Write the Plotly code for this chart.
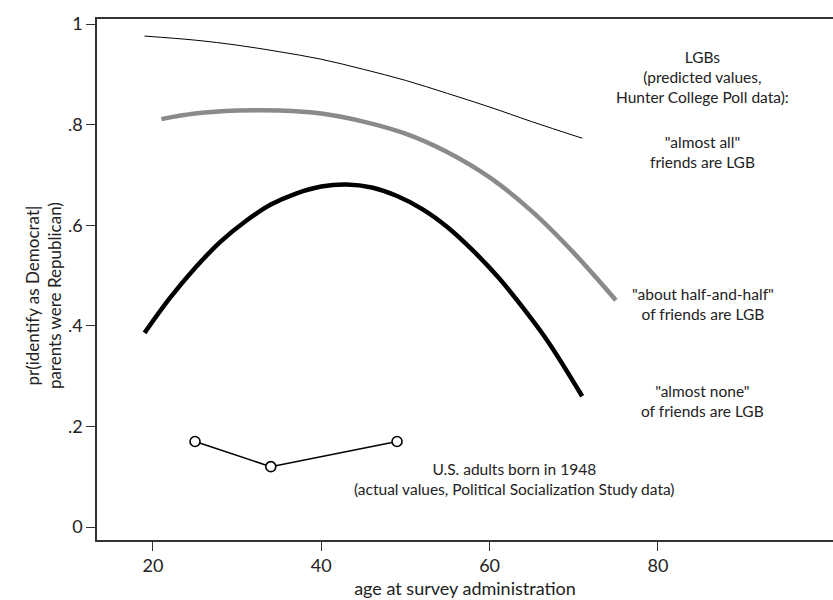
import plotly.graph_objects as go

# ---- data ----
ages_all = [19, 25, 30, 35, 40, 45, 50, 55, 60, 65, 71]
pr_all = [0.976, 0.968, 0.958, 0.945, 0.930, 0.910, 0.888, 0.862, 0.835, 0.806, 0.773]

ages_half = [21, 25, 30, 35, 40, 45, 50, 55, 60, 65, 70, 75]
pr_half = [0.811, 0.822, 0.828, 0.828, 0.822, 0.806, 0.782, 0.745, 0.695, 0.628, 0.545, 0.451]

ages_none = [19, 22, 25, 28, 31, 34, 37, 40, 43, 46, 49, 52, 55, 58, 61, 64, 67, 71]
pr_none = [0.386, 0.455, 0.515, 0.567, 0.608, 0.641, 0.663, 0.677, 0.681, 0.675,
           0.658, 0.632, 0.596, 0.550, 0.497, 0.435, 0.367, 0.260]

ages_pss = [25, 34, 49]
pr_pss = [0.17, 0.12, 0.17]

x_ticks = [20, 40, 60, 80]
y_ticks = [0, 0.2, 0.4, 0.6, 0.8, 1]
y_ticklabels = ["0", ".2", ".4", ".6", ".8", "1"]

label_texts = [
    "LGBs<br>(predicted values,<br>Hunter College Poll data):",
    "\"almost all\"<br>friends are LGB",
    "\"about half-and-half\"<br>of friends are LGB",
    "\"almost none\"<br>of friends are LGB",
    "U.S. adults born in 1948<br>(actual values, Political Socialization Study data)",
]
label_x = [85.3, 85.3, 85.3, 85.3, 63.0]
label_y = [0.895, 0.7465, 0.444, 0.2505, 0.0954]

FONT = "Lato"
TXT = "#222"

fig = go.Figure()
fig.add_trace(go.Scatter(x=ages_all, y=pr_all, mode="lines", line=dict(color="black", width=1, shape="spline"),
                         showlegend=False, hoverinfo="skip"))
fig.add_trace(go.Scatter(x=ages_half, y=pr_half, mode="lines", line=dict(color="#8a8a8a", width=4.5, shape="spline"),
                         showlegend=False, hoverinfo="skip"))
fig.add_trace(go.Scatter(x=ages_none, y=pr_none, mode="lines", line=dict(color="black", width=4.5, shape="spline"),
                         showlegend=False, hoverinfo="skip"))
fig.add_trace(go.Scatter(x=ages_pss, y=pr_pss, mode="lines+markers", line=dict(color="black", width=1.6),
                         marker=dict(symbol="circle", size=10, color="white", line=dict(color="black", width=1.6)),
                         showlegend=False, hoverinfo="skip"))

for t, xx, yy in zip(label_texts, label_x, label_y):
    fig.add_annotation(x=xx, y=yy, xref="x", yref="y", text=t, showarrow=False,
                       font=dict(family=FONT, size=15.5, color=TXT), align="center",
                       xanchor="center", yanchor="middle")

fig.add_annotation(x=-0.0734, y=0.47, xref="paper", yref="paper",
                   text="pr(identify as Democrat|<br>parents were Republican)",
                   textangle=-90, showarrow=False, font=dict(family=FONT, size=17, color=TXT),
                   xanchor="center", yanchor="middle")

fig.update_xaxes(range=[13.35, 100.8], tickvals=x_ticks, ticktext=[str(v) for v in x_ticks],
                 showgrid=False, zeroline=False, showline=True, linecolor="#333", linewidth=1.5,
                 mirror=True, ticks="outside", ticklen=9, tickcolor="#333", tickwidth=1,
                 tickfont=dict(family=FONT, size=18, color=TXT),
                 title=dict(text="age at survey administration", font=dict(family=FONT, size=18, color=TXT),
                            standoff=7))
fig.update_yaxes(range=[-0.0258, 1.01], tickvals=y_ticks, ticktext=y_ticklabels,
                 showgrid=False, zeroline=False, showline=True, linecolor="#333", linewidth=1.5,
                 ticks="outside", ticklen=9, tickcolor="#333", tickwidth=1,
                 tickfont=dict(family=FONT, size=18, color=TXT))

fig.update_layout(width=833, height=600, margin=dict(l=97, r=0, t=19, b=60),
                  plot_bgcolor="white", paper_bgcolor="white", font=dict(family=FONT))

fig.write_html("out.html")
